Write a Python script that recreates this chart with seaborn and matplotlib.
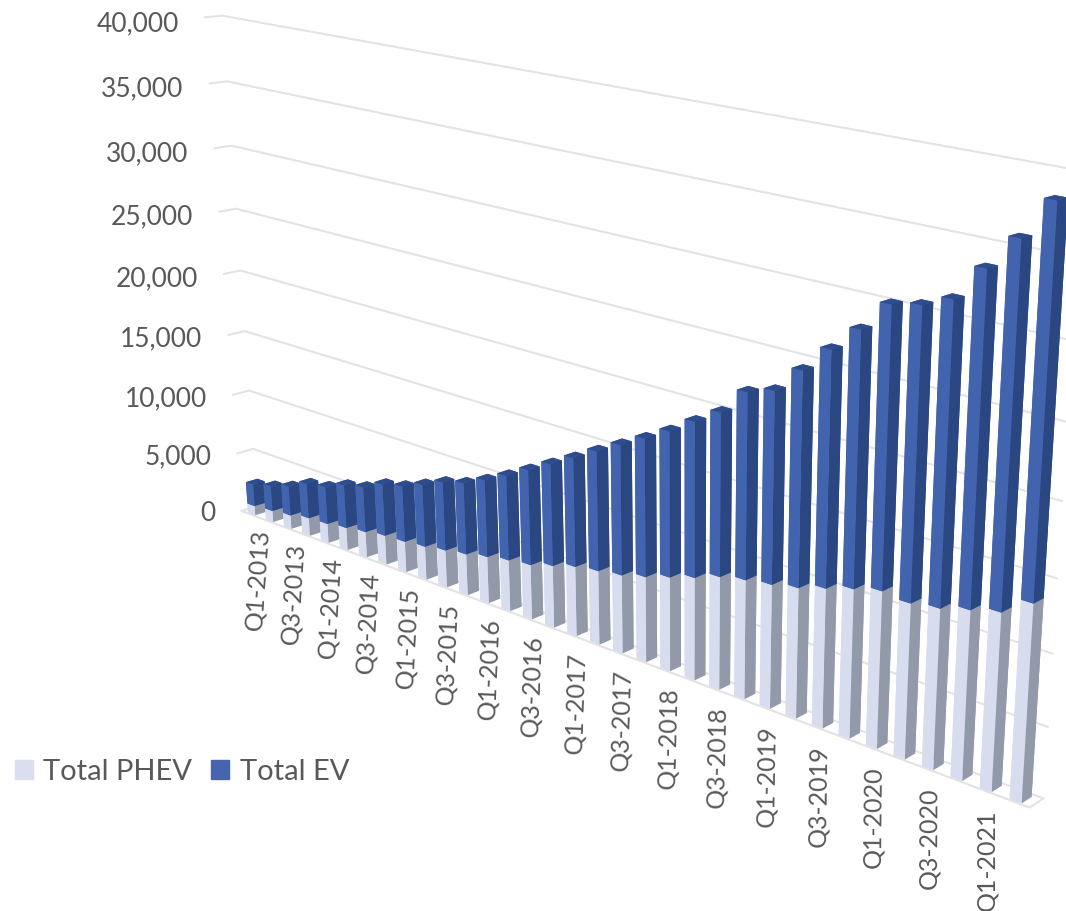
import numpy as np
import pandas as pd
import seaborn as sns
import matplotlib
matplotlib.use("Agg")
import matplotlib.pyplot as plt
from matplotlib.patches import Patch
from mpl_toolkits.mplot3d import proj3d

# Quarterly registrations by drivetrain
quarters = [f"Q{q}-{y}" for y in range(2013, 2021) for q in (1, 2, 3, 4)] + ["Q1-2021", "Q2-2021"]
total_phev = [800, 950, 1150, 1500, 1600, 1850, 2100, 2400, 2500, 2700, 3000, 3300, 3700, 4050, 4300, 4850, 5400,
              5700, 6000, 6500, 7100, 7700, 8400, 8800, 9100, 9500, 10100, 10700, 11200, 11000, 11300, 11850, 12350,
              13600]
total_all = [2650, 3050, 3600, 4400, 4700, 5400, 5800, 6600, 7000, 7700, 8450, 8950, 9750, 10650, 11650, 12650, 13650,
             14700, 15700, 16700, 17750, 18950, 20100, 22000, 22600, 24450, 26300, 28050, 30100, 30500, 31300, 33600,
             35800, 38400]
total_ev = list(np.subtract(total_all, total_phev))
value_ticks = [0, 5000, 10000, 15000, 20000, 25000, 30000, 35000, 40000]

df = pd.DataFrame({"quarter": quarters, "Total PHEV": total_phev, "Total EV": total_ev})

W, H = 1066, 911
GRID = "#e3e3e3"
TEXT = "#595959"
FONT = ["Lato", "DejaVu Sans"]

sns.set_theme(style="white")
plt.rcParams["font.family"] = FONT

# Colours per face: bottom, top, front, back, left, right
phev_faces = sns.color_palette(["#d5dbec", "#c4cadb", "#d7ddee", "#9097a8", "#d7ddee", "#9299a9"])
ev_faces = sns.color_palette(["#3f62ae", "#2f4c8c", "#4264ae", "#2a4682", "#4264ae", "#2b4781"])

n = len(df)
top = value_ticks[-1]

# Camera: pixel positions of the plot box corners given as (x, depth, value) -> (u, v)
box_corners = [
    ((0, 1, 0), (258, 507)),
    ((n, 1, 0), (1043, 798)),
    ((0, 1, top), (222, 15)),
    ((n, 1, top), (1083, 171)),
    ((0, 0, 0), (241, 510)),
    ((n, 0, 0), (1030, 808)),
    ((0, 0, top), (205, 18)),
]


def solve_camera(corners):
    rows, rhs = [], []
    for (x, y, z), (u, v) in corners:
        v = H - v
        rows.append([x, y, z, 1, 0, 0, 0, 0, -u * x, -u * y, -u * z])
        rhs.append(u)
        rows.append([0, 0, 0, 0, x, y, z, 1, -v * x, -v * y, -v * z])
        rhs.append(v)
    sol = np.linalg.lstsq(np.array(rows, float), np.array(rhs, float), rcond=None)[0]
    p = np.append(sol, 1.0).reshape(3, 4)
    far = p[2] - np.array([0, 0, 0, 1.0])
    return np.vstack([p[0], p[1], far, p[2]])


fig = plt.figure(figsize=(W / 100, H / 100), dpi=100)
pad = (W - H) / 2
ax = fig.add_axes([0, -pad / H, 1, W / H], projection="3d", computed_zorder=False, proj_type="ortho")
ax.set_axis_off()
M = solve_camera(box_corners)
ax.get_proj = lambda: M


def px(x, y, z):
    u, v, _ = proj3d.proj_transform(x, y, z, M)
    return float(u), float(v)


# Gridlines on the side and back walls, plus the floor outline
for v in value_ticks:
    ax.plot([0, 0, n], [0, 1, 1], [v, v, v], color=GRID, lw=1.5, zorder=1, solid_joinstyle="miter")
ax.plot([0, n, n], [0, 0, 1], [0, 0, 0], color=GRID, lw=1.5, zorder=1)

# Stacked columns
gap, bar_w = 0.3, 0.4
near, bar_d = 0.08, 0.72
xs = np.arange(n) + gap
ys = np.full(n, near)
ax.bar3d(xs, ys, np.zeros(n), bar_w, bar_d, df["Total PHEV"], color=list(phev_faces) * n,
         shade=False, linewidth=0, edgecolor="none", zorder=3)
ax.bar3d(xs, ys, df["Total PHEV"], bar_w, bar_d, df["Total EV"], color=list(ev_faces) * n,
         shade=False, linewidth=0, edgecolor="none", zorder=4)

# Value labels beside the front edge of the side wall
for v in value_ticks:
    u, w = px(0, 0, v)
    ax.text2D(u - 26, w - 3 - 3 * v / top, f"{v:,}", transform=ax.transData, ha="right", va="center",
              fontsize=19, color=TEXT, clip_on=False)

# Every second quarter is labelled just under the floor edge
for i in range(0, n, 2):
    t = i / (n - 2)
    u, w = px(i + 0.5, 0, 0)
    ax.text2D(u + 11 - 9 * t, w - 15 - 4 * t, df["quarter"][i], transform=ax.transData,
              rotation=86 + 4 * t, rotation_mode="anchor", ha="right", va="center",
              fontsize=18, color=TEXT, clip_on=False)

ax.viewLim.intervalx = (0, W)
ax.viewLim.intervaly = (-pad, H + pad)

fig.legend(handles=[Patch(color="#dadfef", label="Total PHEV"),
                    Patch(color="#4765ae", label="Total EV")],
           loc="center left", bbox_to_anchor=(15 / W, 1 - 772 / H), ncol=2, frameon=False,
           fontsize=21, labelcolor=TEXT, handlelength=0.62, handleheight=0.62,
           handletextpad=0.35, columnspacing=0.65, borderpad=0, borderaxespad=0)

fig.savefig("out.png", dpi=100, facecolor="white")
